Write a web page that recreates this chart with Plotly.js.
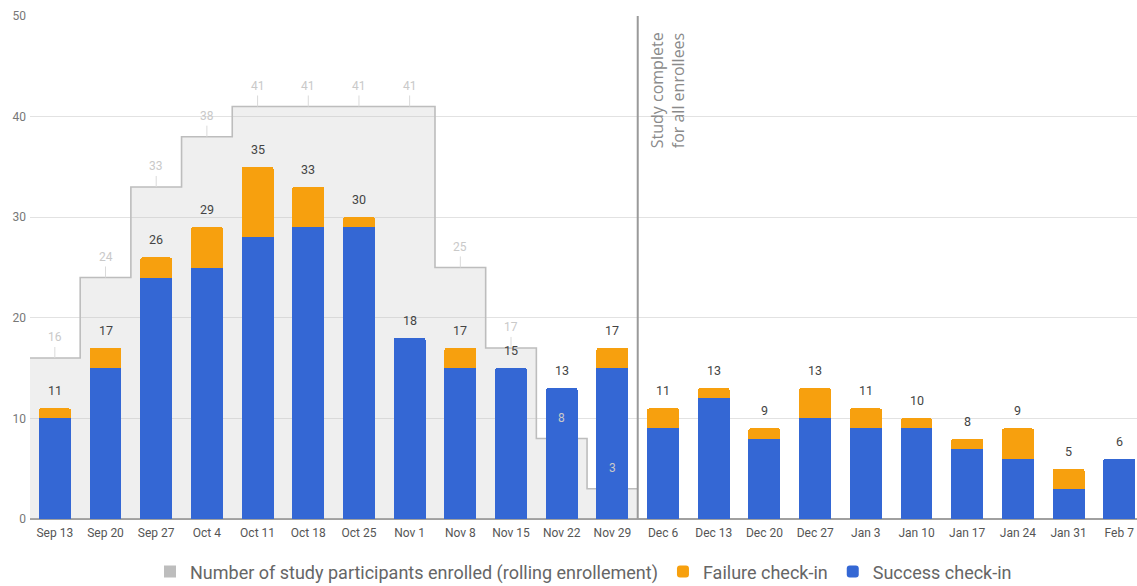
<!DOCTYPE html>
<html>
<head>
<meta charset="utf-8">
<script src="https://cdn.plot.ly/plotly-3.0.1.min.js"></script>
<style>
  html, body { margin: 0; padding: 0; background: #fff; }
  #chart { width: 1137px; height: 586px; }
</style>
</head>
<body>
<div id="chart"></div>
<script>
// Weekly check-ins, Sep 13 – Feb 7
const weeks = ['Sep 13', 'Sep 20', 'Sep 27', 'Oct 4', 'Oct 11', 'Oct 18', 'Oct 25', 'Nov 1',
               'Nov 8', 'Nov 15', 'Nov 22', 'Nov 29', 'Dec 6', 'Dec 13', 'Dec 20', 'Dec 27',
               'Jan 3', 'Jan 10', 'Jan 17', 'Jan 24', 'Jan 31', 'Feb 7'];
// Participants enrolled during the rolling-enrollment weeks (Sep 13 – Nov 29)
const enrolled = [16, 24, 33, 38, 41, 41, 41, 41, 25, 17, 8, 3];
const success  = [10, 15, 24, 25, 28, 29, 29, 18, 15, 15, 13, 15, 9, 12, 8, 10, 9, 9, 7, 6, 3, 6];
const failure  = [1, 2, 2, 4, 7, 4, 1, 0, 2, 0, 0, 2, 2, 1, 1, 3, 2, 1, 1, 3, 2, 0];

const FONT = 'Roboto, Arial, sans-serif';
const xIdx = weeks.map((_, i) => i);
const enrolledIdx = enrolled.map((_, i) => i);
const totals = success.map((s, i) => s + failure[i]);
const xRange = [-0.49, 21.35];

// Stepped outline around the enrollment area
const stepX = enrolledIdx.map(i => i - 0.5).concat([enrolled.length - 0.5]);
const stepY = enrolled.concat([enrolled[enrolled.length - 1]]);

// Short leader stems from each enrollment step to its label
const stemX = [], stemY = [];
enrolled.forEach((v, i) => { stemX.push(i, i, null); stemY.push(v, v + 1.1, null); });

const traces = [
  {
    type: 'bar', x: enrolledIdx, y: enrolled, width: 1,
    name: 'Number of study participants enrolled (rolling enrollement)',
    marker: { color: '#bdbdbd', opacity: 0.24, line: { width: 0 } },
    legendrank: 1, hoverinfo: 'skip', xaxis: 'x', yaxis: 'y'
  },
  {
    type: 'scatter', mode: 'lines', x: stepX, y: stepY,
    line: { shape: 'hv', color: '#bdbdbd', width: 1.6 },
    showlegend: false, hoverinfo: 'skip', xaxis: 'x', yaxis: 'y'
  },
  {
    type: 'scatter', mode: 'lines', x: stemX, y: stemY,
    line: { color: '#dadada', width: 1 }, connectgaps: false,
    showlegend: false, hoverinfo: 'skip', xaxis: 'x', yaxis: 'y'
  },
  {
    type: 'bar', x: xIdx, y: success, width: 0.63,
    name: 'Success check-in',
    marker: { color: '#3467d4', line: { width: 0 }, cornerradius: 2 },
    legendrank: 3, xaxis: 'x2', yaxis: 'y'
  },
  {
    type: 'bar', x: xIdx, y: failure, width: 0.63,
    name: 'Failure check-in',
    marker: { color: '#f7a00e', line: { width: 0 }, cornerradius: 2 },
    legendrank: 2, xaxis: 'x2', yaxis: 'y'
  }
];

const annotations = [];
// Totals above each stacked bar
totals.forEach((t, i) => annotations.push({
  x: i, y: t, xref: 'x', yref: 'y', text: String(t), showarrow: false,
  yanchor: 'bottom', yshift: 8, font: { family: FONT, size: 12.5, color: '#444' }
}));
// Enrollment counts above each step
enrolled.forEach((v, i) => annotations.push({
  x: i, y: v, xref: 'x', yref: 'y', text: String(v), showarrow: false,
  yanchor: 'bottom', yshift: 12, font: { family: FONT, size: 12, color: '#c9c9c9' }
}));
// Marker for the end of the study period
annotations.push({
  x: enrolled.length - 0.5, y: 50, xref: 'x', yref: 'y',
  text: 'Study complete<br>for all enrollees', showarrow: false,
  textangle: -90, xanchor: 'left', yanchor: 'top', xshift: 6, yshift: -14,
  align: 'left', font: { family: '"Open Sans", sans-serif', size: 16, color: '#8a8a8a' }
});

const layout = {
  width: 1137, height: 586,
  margin: { l: 30, r: 0, t: 16, b: 67, autoexpand: false },
  paper_bgcolor: '#fff', plot_bgcolor: 'rgba(0,0,0,0)',
  barmode: 'stack', bargap: 0,
  font: { family: FONT, color: '#555' },
  xaxis: {
    range: xRange, tickmode: 'array', tickvals: xIdx, ticktext: weeks,
    showgrid: false, zeroline: false, showline: false, ticks: '', ticklabelstandoff: 5,
    tickfont: { family: FONT, size: 12, color: '#555' }, fixedrange: true
  },
  xaxis2: { range: xRange, overlaying: 'x', visible: false, fixedrange: true },
  yaxis: {
    range: [0, 50], tickvals: [0, 10, 20, 30, 40, 50],
    gridcolor: '#e2e2e2', gridwidth: 1,
    zeroline: true, zerolinecolor: '#a0a0a0', zerolinewidth: 1.5,
    ticks: '', ticklabelstandoff: 3,
    tickfont: { family: FONT, size: 12, color: '#777' }, fixedrange: true
  },
  shapes: [{
    type: 'line', xref: 'x', yref: 'y',
    x0: enrolled.length - 0.5, x1: enrolled.length - 0.5, y0: 0, y1: 50,
    line: { color: '#9a9a9a', width: 2 }, layer: 'above'
  }],
  annotations: annotations,
  legend: {
    orientation: 'h', x: 0.5, xanchor: 'center', y: -0.105, yanchor: 'middle',
    font: { family: FONT, size: 18, color: '#666' }, traceorder: 'normal'
  },
  showlegend: true
};

Plotly.newPlot('chart', traces, layout, { displayModeBar: false, staticPlot: true });
</script>
</body>
</html>
